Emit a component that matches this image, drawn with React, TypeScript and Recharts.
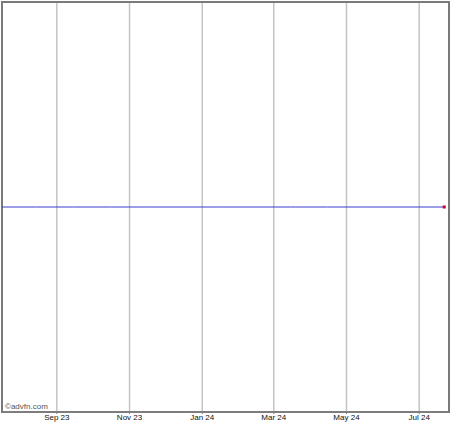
import { LineChart, Line, XAxis, YAxis, CartesianGrid, ReferenceArea } from "recharts";

// flat price series, one point per month plus the last trading day
const dates = [
  "2023-07-17", "2023-08-15", "2023-09-15", "2023-10-16", "2023-11-15", "2023-12-15",
  "2024-01-16", "2024-02-15", "2024-03-15", "2024-04-15", "2024-05-15", "2024-06-14",
  "2024-07-22",
];
const prices = [1, 1, 1, 1, 1, 1, 1, 1, 1, 1, 1, 1, 1];

const tickDates = ["2023-09-01", "2023-11-01", "2024-01-01", "2024-03-01", "2024-05-01", "2024-07-01"];
const tickLabels = ["Sep 23", "Nov 23", "Jan 24", "Mar 24", "May 24", "Jul 24"];

const xStart = "2023-07-17";
const xEnd = "2024-07-26";

const ts = (d: string) => new Date(d + "T00:00:00Z").getTime();

const data = dates.map((d, i) => ({ t: ts(d), price: prices[i] }));
const ticks = tickDates.map(ts);

const LastDot = (props: any) => {
  const { cx, cy, index } = props;
  if (index !== data.length - 1) return <g key={index} />;
  return <rect key={index} x={cx - 1.5} y={cy - 1.5} width={3} height={3} fill="#cc0033" />;
};

export default function App() {
  return (
    <div style={{ position: "relative", width: 474, height: 424 }}>
      <style>{`body{margin:0}`}</style>
      <LineChart width={474} height={424} data={data} margin={{ top: 2, right: 25, bottom: 0, left: 2 }}>
        <CartesianGrid vertical horizontal={false} stroke="#c4c4c4" strokeWidth={1.5} />
        <XAxis
          dataKey="t"
          type="number"
          scale="time"
          domain={[ts(xStart), ts(xEnd)]}
          ticks={ticks}
          tickFormatter={(v: number) => tickLabels[ticks.indexOf(v)]}
          height={12}
          tickSize={2}
          tickMargin={0}
          stroke="#808080"
          tick={{ fontSize: 8, fill: "#111", fontFamily: "Liberation Sans" }}
          interval={0}
        />
        <YAxis hide domain={[0, 2]} />
        <ReferenceArea
          x1={ts(xStart)}
          x2={ts(xEnd)}
          y1={0}
          y2={2}
          fill="none"
          stroke="#7a7a7a"
          strokeWidth={2}
        />
        <Line
          dataKey="price"
          stroke="#3c3cd0"
          strokeWidth={1}
          dot={LastDot}
          activeDot={false}
          isAnimationActive={false}
        />
      </LineChart>
      <span
        style={{
          position: "absolute",
          left: 5,
          top: 402,
          fontSize: 8,
          color: "#555",
          fontFamily: "Liberation Sans",
        }}
      >
        ©advfn.com
      </span>
    </div>
  );
}
